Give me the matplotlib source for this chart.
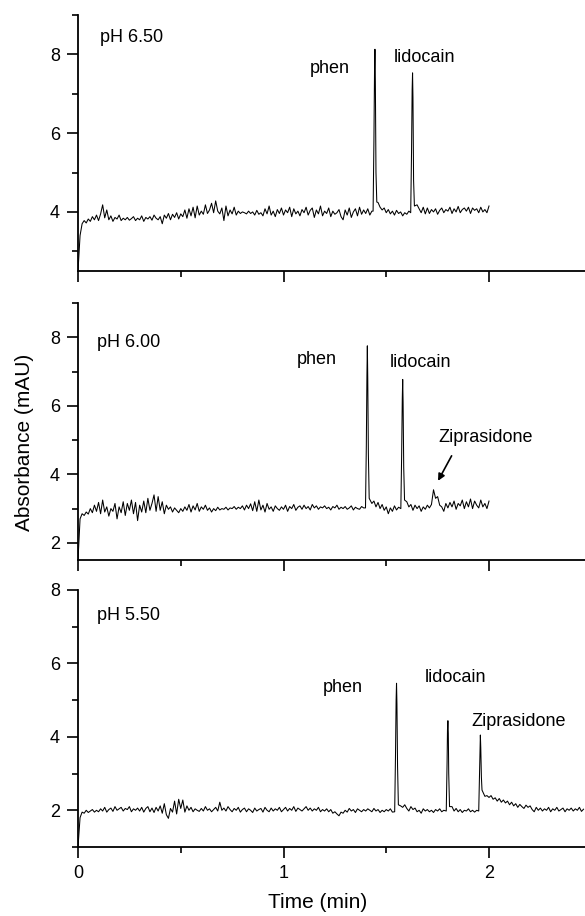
import numpy as np
import matplotlib
matplotlib.use("Agg")
import matplotlib.pyplot as plt
from matplotlib.ticker import MultipleLocator

plt.rcParams["font.family"] = ["Liberation Sans", "DejaVu Sans"]

# sampling of the detector trace (min)
T_STEP = 0.01

# ---- pH 6.50 -------------------------------------------------------------
ph650_base = [
    2.50, 3.40, 3.70, 3.78, 3.72, 3.82, 3.76, 3.88, 3.80, 3.92,
    3.78, 3.95, 4.18, 3.85, 4.05, 3.80, 3.90, 3.76, 3.86, 3.82,
    3.92, 3.78, 3.84, 3.80, 3.86, 3.79, 3.83, 3.88, 3.78, 3.84,
    3.80, 3.90, 3.76, 3.86, 3.82, 3.88, 3.79, 3.92, 3.84, 3.80,
    3.88, 3.70, 3.92, 3.84, 3.96, 3.80, 3.94, 3.86, 3.98, 3.82,
    3.95, 3.88, 4.05, 3.84, 4.08, 3.90, 4.12, 3.85, 4.15, 3.92,
    4.02, 3.94, 4.18, 3.96, 4.05, 4.22, 3.98, 4.28, 4.02, 3.95,
    4.10, 3.78, 4.15, 3.90, 4.05, 3.95, 4.12, 3.92, 4.02, 3.96,
    4.00, 3.98, 3.95, 4.02, 3.96, 4.00, 3.92, 4.04, 3.94, 3.98,
    3.90, 4.08, 3.95, 4.15, 3.92, 4.02, 3.88, 4.06, 3.96, 4.10,
    3.92, 4.05, 3.98, 4.12, 3.88, 4.08, 3.95, 4.02, 3.90, 4.06,
    3.98, 4.12, 3.92, 4.04, 4.10, 3.86, 4.05, 3.95, 4.15, 3.90,
    4.02, 3.96, 4.10, 3.88, 4.02, 3.94, 3.98, 4.06, 3.88, 3.80,
    4.05, 3.92, 4.10, 3.86, 4.00, 4.08, 3.90, 4.12, 3.94, 4.05,
    3.96, 4.08, 3.92, 4.02, 4.00, 4.00, 4.24, 4.12, 4.05, 4.10,
    3.98, 4.06, 3.95, 4.02, 3.92, 4.04, 3.96, 4.00, 3.90, 3.98,
    3.94, 4.02, 3.96, 4.00, 4.02, 4.18, 4.08, 3.98, 4.12, 3.95,
    4.10, 3.96, 4.06, 4.00, 4.08, 3.94, 4.04, 4.10, 3.98, 4.06,
    4.02, 4.12, 3.96, 4.08, 4.00, 4.14, 3.98, 4.06, 4.10, 4.02,
    4.12, 3.96, 4.10, 4.04, 4.08, 3.98, 4.12, 4.00, 4.06, 3.98,
    4.15,
]
ph650_peak_t = [1.436, 1.440, 1.443, 1.445, 1.447, 1.450, 1.454,
                1.619, 1.623, 1.626, 1.628, 1.630, 1.633, 1.637]
ph650_peak_y = [4.02, 5.80, 7.60, 8.13, 7.30, 5.00, 4.25,
                3.98, 5.50, 7.10, 7.53, 6.90, 4.80, 4.15]

# ---- pH 6.00 -------------------------------------------------------------
ph600_base = [
    1.50, 2.70, 2.85, 2.80, 2.90, 2.84, 3.00, 2.88, 3.10, 2.92,
    3.18, 2.85, 3.25, 2.90, 3.05, 2.78, 3.00, 2.92, 3.15, 2.70,
    3.05, 2.88, 3.20, 2.80, 3.15, 2.95, 3.25, 2.85, 3.18, 2.65,
    3.10, 2.90, 3.22, 2.88, 3.30, 2.95, 3.15, 3.40, 2.92, 3.35,
    2.95, 3.20, 2.85, 3.10, 2.98, 3.05, 2.90, 3.02, 2.95, 2.88,
    3.00, 2.92, 3.05, 2.95, 3.12, 2.90, 3.08, 2.96, 3.15, 2.92,
    3.05, 2.98, 3.10, 2.95, 3.02, 2.90, 3.00, 2.94, 3.04, 2.96,
    3.00, 2.98, 3.04, 2.96, 3.02, 3.00, 3.06, 2.98, 3.04, 3.00,
    3.08, 2.96, 3.10, 3.00, 3.14, 2.94, 3.20, 2.92, 3.25, 2.96,
    3.10, 2.90, 3.15, 2.98, 3.05, 2.92, 3.08, 3.00, 2.95, 3.05,
    2.98, 3.10, 2.92, 3.06, 3.00, 3.12, 2.95, 3.04, 3.08, 2.98,
    3.10, 3.00, 3.06, 2.96, 3.12, 3.02, 3.08, 2.98, 3.05, 3.02,
    3.08, 3.00, 3.04, 2.96, 3.06, 3.02, 3.10, 2.98, 3.04, 3.00,
    3.06, 2.98, 3.02, 3.08, 2.96, 3.04, 3.00, 2.98, 3.06, 3.02,
    3.00, 3.00, 3.28, 3.15, 3.22, 3.05, 3.18, 3.00, 3.12, 2.95,
    3.05, 2.85, 3.02, 2.92, 3.08, 2.96, 3.04, 2.98, 3.00, 3.00,
    3.20, 3.05, 3.12, 2.95, 3.10, 3.00, 3.08, 2.92, 3.05, 2.98,
    3.10, 3.02, 3.12, 3.55, 3.30, 3.35, 3.10, 3.05, 2.92, 3.15,
    3.02, 3.18, 3.05, 3.22, 2.98, 3.15, 3.08, 3.25, 3.00, 3.20,
    3.05, 3.28, 3.00, 3.22, 3.10, 3.02, 3.25, 3.05, 3.15, 3.00,
    3.22,
]
ph600_peak_t = [1.399, 1.403, 1.406, 1.408, 1.410, 1.413, 1.417,
                1.571, 1.575, 1.578, 1.580, 1.582, 1.585, 1.589]
ph600_peak_y = [3.02, 4.80, 6.90, 7.75, 6.80, 4.60, 3.30,
                3.00, 4.60, 6.20, 6.77, 6.10, 4.20, 3.25]

# ---- pH 5.50 -------------------------------------------------------------
ph550_base = [
    1.00, 1.80, 1.95, 1.92, 2.00, 1.94, 1.98, 2.02, 1.95, 2.00,
    1.96, 2.04, 1.98, 2.08, 1.95, 2.02, 2.06, 1.97, 2.10, 2.00,
    2.04, 2.08, 1.98, 2.05, 2.02, 2.10, 1.96, 2.04, 2.00, 2.06,
    1.98, 2.08, 1.95, 2.05, 2.10, 1.96, 2.06, 1.94, 2.08, 1.98,
    2.12, 1.92, 2.18, 1.88, 1.78, 2.05, 1.95, 2.25, 1.90, 2.30,
    2.05, 2.28, 1.95, 2.12, 2.00, 2.08, 1.96, 2.04, 2.00, 1.97,
    2.05, 1.98, 2.10, 2.00, 2.04, 1.96, 2.02, 2.08, 1.98, 2.22,
    2.00, 2.06, 1.98, 2.10, 2.02, 1.96, 2.05, 2.00, 2.08, 1.95,
    2.02, 2.06, 1.96, 2.04, 2.00, 1.94, 2.06, 1.98, 2.02, 2.05,
    1.95, 2.08, 2.00, 1.96, 2.06, 1.98, 2.04, 2.00, 2.08, 1.96,
    2.02, 2.08, 1.98, 2.05, 2.00, 2.10, 1.97, 2.06, 2.02, 1.98,
    2.04, 2.10, 2.00, 2.06, 1.98, 2.04, 2.00, 2.08, 1.96, 2.02,
    1.98, 2.04, 1.96, 2.02, 1.92, 1.96, 1.90, 1.85, 1.95, 1.92,
    2.00, 1.95, 2.05, 1.98, 2.02, 1.94, 2.04, 2.00, 1.96, 2.02,
    1.98, 2.04, 2.00, 1.96, 2.05, 1.98, 2.02, 1.94, 2.00, 1.96,
    2.02, 1.98, 2.04, 1.95, 2.00, 2.00, 2.00, 2.12, 2.08, 2.15,
    2.05, 1.98, 2.10, 2.02, 2.06, 1.96, 2.00, 1.92, 2.04, 1.98,
    2.02, 1.96, 2.00, 1.94, 2.02, 1.98, 2.04, 1.96, 2.00, 1.95,
    2.00, 2.00, 2.10, 1.98, 2.05, 1.96, 2.02, 1.94, 2.00, 1.98,
    2.04, 1.96, 2.00, 1.95, 2.00, 2.00, 2.00, 2.42, 2.38, 2.40,
    2.35, 2.40, 2.30, 2.34, 2.25, 2.32, 2.22, 2.28, 2.20, 2.25,
    2.15, 2.22, 2.12, 2.18, 2.08, 2.16, 2.10, 2.05, 2.14, 2.08,
    2.12, 2.02, 1.96, 2.08, 2.00, 2.06, 1.98, 2.04, 2.00, 2.08,
    1.96, 2.04, 2.00, 2.08, 1.98, 2.02, 2.06, 1.96, 2.04, 2.00,
    2.06, 1.98, 2.04, 2.00, 2.08, 1.97, 2.03,
]
ph550_peak_t = [1.541, 1.545, 1.548, 1.550, 1.552, 1.555, 1.559,
                1.792, 1.796, 1.798, 1.800, 1.802, 1.804, 1.808,
                1.950, 1.953, 1.956, 1.958, 1.960, 1.963, 1.966]
ph550_peak_y = [1.96, 3.50, 5.00, 5.46, 4.90, 3.20, 2.15,
                1.98, 3.30, 4.20, 4.44, 4.10, 3.00, 2.10,
                1.98, 2.80, 3.70, 4.05, 3.70, 2.90, 2.55]

panel_labels = ["pH 6.50", "pH 6.00", "pH 5.50"]


def build_trace(base, peak_t, peak_y):
    t = np.arange(len(base)) * T_STEP
    y = np.asarray(base, dtype=float)
    pt = np.asarray(peak_t)
    keep = np.array([np.min(np.abs(pt - ti)) >= 0.005 for ti in t])
    tt = np.concatenate([t[keep], pt])
    yy = np.concatenate([y[keep], np.asarray(peak_y)])
    order = np.argsort(tt)
    return tt[order], yy[order]


W, H = 585, 916
fig = plt.figure(figsize=(W / 100, H / 100), dpi=100)

x_max = 507 / 205.5
# (top px, bottom px, ylim)
panels = [
    (15, 271, (2.5, 9.0), (ph650_base, ph650_peak_t, ph650_peak_y)),
    (303, 560, (1.5, 9.0), (ph600_base, ph600_peak_t, ph600_peak_y)),
    (590, 847, (1.0, 8.0), (ph550_base, ph550_peak_t, ph550_peak_y)),
]

axes = []
for top, bot, ylim, data in panels:
    ax = fig.add_axes([78 / W, 1 - bot / H, 1 - 78 / W, (bot - top) / H])
    t, y = build_trace(*data)
    ax.plot(t, y, color="black", lw=0.75)
    ax.set_xlim(0, x_max)
    ax.set_ylim(*ylim)
    for s in ("top", "right"):
        ax.spines[s].set_visible(False)
    for s in ("left", "bottom"):
        ax.spines[s].set_linewidth(1.3)
    ax.xaxis.set_major_locator(MultipleLocator(1))
    ax.xaxis.set_minor_locator(MultipleLocator(0.5))
    ax.yaxis.set_major_locator(MultipleLocator(2))
    ax.yaxis.set_minor_locator(MultipleLocator(1))
    ax.tick_params(which="major", direction="out", length=8, width=1.2,
                   labelsize=13, pad=5)
    ax.tick_params(which="minor", direction="out", length=4, width=1.2)
    axes.append(ax)

ax1, ax2, ax3 = axes
ax1.tick_params(axis="x", labelbottom=False)
ax2.tick_params(axis="x", labelbottom=False)

fs = 13
ax1.text(0.107, 8.43, panel_labels[0], fontsize=fs, va="center")
ax1.text(1.129, 7.65, "phen", fontsize=fs, va="center")
ax1.text(1.538, 7.92, "lidocain", fontsize=fs, va="center")

ax2.text(0.092, 7.85, panel_labels[1], fontsize=fs, va="center")
ax2.text(1.066, 7.35, "phen", fontsize=fs, va="center")
ax2.text(1.518, 7.26, "lidocain", fontsize=fs, va="center")
ax2.text(1.752, 5.07, "Ziprasidone", fontsize=fs, va="center")
ax2.annotate("", xy=(1.752, 3.81), xytext=(1.818, 4.54),
             arrowprops=dict(arrowstyle="-|>", color="black", lw=1.2,
                             mutation_scale=10, shrinkA=0, shrinkB=0))

ax3.text(0.092, 7.31, panel_labels[2], fontsize=fs, va="center")
ax3.text(1.191, 5.35, "phen", fontsize=fs, va="center")
ax3.text(1.689, 5.62, "lidocain", fontsize=fs, va="center")
ax3.text(1.912, 4.41, "Ziprasidone", fontsize=fs, va="center")

fig.text(25 / W, 1 - 442 / H, "Absorbance (mAU)", rotation=90,
         ha="center", va="center", fontsize=15)
fig.text(318 / W, 1 - 903 / H, "Time (min)", ha="center", va="center",
         fontsize=15)

fig.savefig("out.png", dpi=100)
